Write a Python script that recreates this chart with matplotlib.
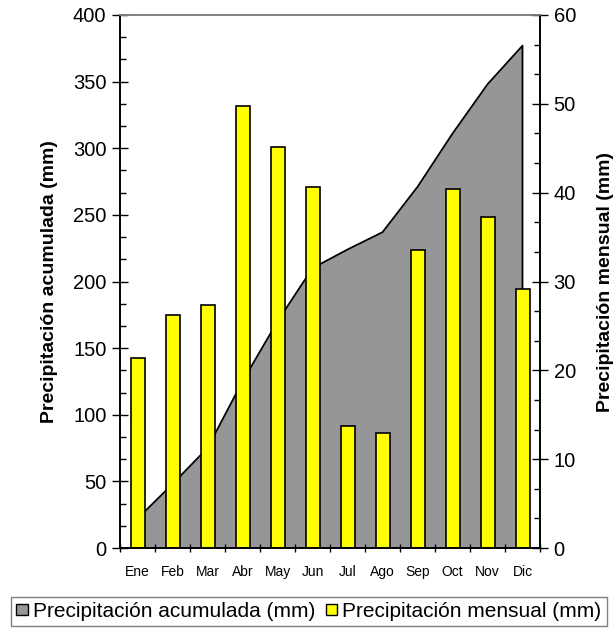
import numpy as np
import matplotlib
matplotlib.use("Agg")
import matplotlib.pyplot as plt
from matplotlib.patches import Patch
from matplotlib.ticker import MultipleLocator

plt.rcParams['font.family'] = ['Liberation Sans', 'DejaVu Sans']

meses = ['Ene', 'Feb', 'Mar', 'Abr', 'May', 'Jun', 'Jul', 'Ago', 'Sep', 'Oct', 'Nov', 'Dic']
mensual = [21.4, 26.2, 27.4, 49.7, 45.1, 40.6, 13.7, 13.0, 33.5, 40.4, 37.3, 29.2]
acumulada = [22, 48, 75, 125, 170, 210, 224, 237, 271, 311, 348, 377]

x = np.arange(len(meses))

fig = plt.figure(figsize=(6.16, 6.30), dpi=100)
ax = fig.add_axes([120/616, 1 - 548/630, 420/616, 533/630])
ax2 = ax.twinx()

# area acumulada
ax.fill_between(x, acumulada, 0, color='#969696', lw=0)
ax.plot(np.r_[x, x[-1]], np.r_[acumulada, 0], color='black', lw=1.3)
ax.set_xlim(-0.5, len(meses) - 0.5)
ax.set_ylim(0, 400)
ax.yaxis.set_major_locator(MultipleLocator(50))
ax.yaxis.set_minor_locator(MultipleLocator(50/3))

# barras mensuales
ax2.bar(x, mensual, width=0.4, color='#ffff00', edgecolor='black', lw=1.2)
ax2.set_ylim(0, 60)
ax2.yaxis.set_major_locator(MultipleLocator(10))
ax2.yaxis.set_minor_locator(MultipleLocator(10/3))

ax.set_xticks(x)
ax.set_xticklabels(meses, fontsize=10)
ax.set_xticks(np.arange(-0.5, len(meses)), minor=True)
ax.tick_params(axis='x', which='major', length=0, pad=12)
ax.tick_params(axis='x', which='minor', direction='inout', length=6, width=1)

for a in (ax, ax2):
    a.tick_params(axis='y', which='major', direction='inout', length=11.5, width=1, labelsize=14.5, pad=4)
    a.tick_params(axis='y', which='minor', direction='in', length=4.3, width=1)
    a.spines['top'].set_color('#808080')
    a.spines['top'].set_linewidth(1.2)
    for s in ('left', 'right', 'bottom'):
        a.spines[s].set_linewidth(1.2)

ax.set_ylabel('Precipitación acumulada (mm)', fontsize=14, fontweight='bold', labelpad=11)
ax2.set_ylabel('Precipitación mensual (mm)', fontsize=14, fontweight='bold', labelpad=15)

handles = [Patch(facecolor='#969696', edgecolor='black', lw=1),
           Patch(facecolor='#ffff00', edgecolor='black', lw=1)]
leg = fig.legend(handles, ['Precipitación acumulada (mm)', 'Precipitación mensual (mm)'],
                 loc='upper left', bbox_to_anchor=(11/616, 1 - 597/630), ncol=2, fontsize=15,
                 frameon=True, fancybox=False, handlelength=0.55, handleheight=0.45,
                 handletextpad=0.25, columnspacing=0.5, borderpad=0.25, borderaxespad=0)
leg.get_frame().set_edgecolor('#606060')
leg.get_frame().set_linewidth(1)

fig.savefig('out.png', dpi=100)
